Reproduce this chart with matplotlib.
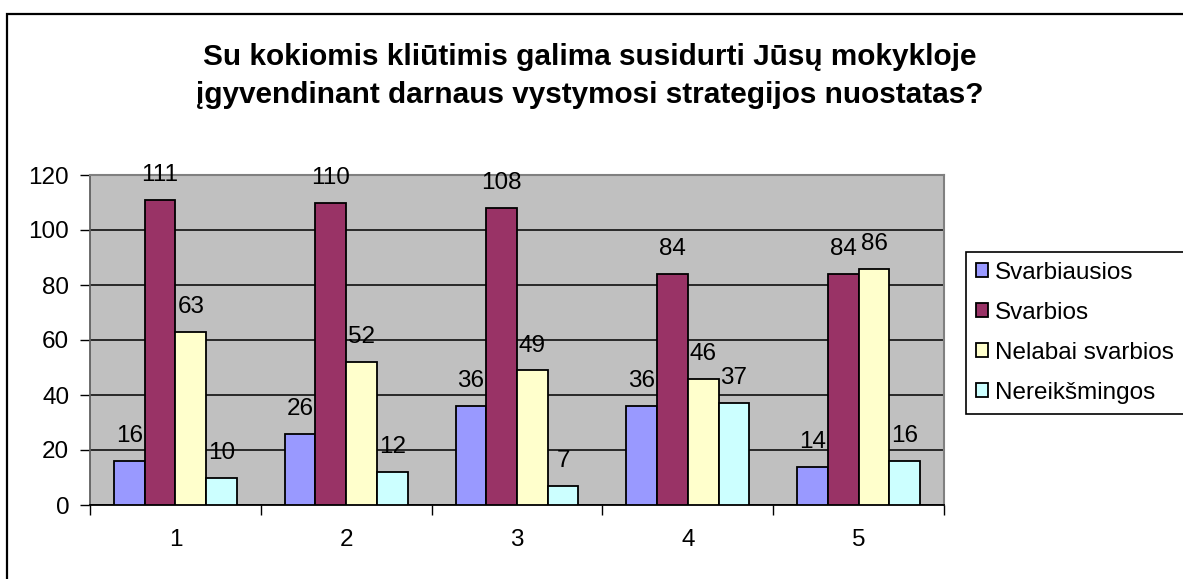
import numpy as np
import matplotlib.pyplot as plt
from matplotlib.patches import Rectangle

plt.rcParams['font.family'] = ['Liberation Sans', 'DejaVu Sans']

# Data
categories = ['1', '2', '3', '4', '5']
series_names = ['Svarbiausios', 'Svarbios', 'Nelabai svarbios', 'Nereikšmingos']
svarbiausios = [16, 26, 36, 36, 14]
svarbios = [111, 110, 108, 84, 84]
nelabai_svarbios = [63, 52, 49, 46, 86]
nereiksmingos = [10, 12, 7, 37, 16]
series_values = [svarbiausios, svarbios, nelabai_svarbios, nereiksmingos]
colors = ['#9999FF', '#993366', '#FFFFCC', '#CCFFFF']
title_lines = ['Su kokiomis kliūtimis galima susidurti Jūsų mokykloje',
               'įgyvendinant darnaus vystymosi strategijos nuostatas?']

W, H = 1183, 579
fs = 17.5
fig = plt.figure(figsize=(W / 100, H / 100), dpi=100)
ax = fig.add_axes([90 / W, 1 - 505 / H, (944 - 90) / W, (505 - 175) / H])
ax.set_facecolor('#C0C0C0')

x = np.arange(len(categories))
bw = 0.18
for i, (name, vals, c) in enumerate(zip(series_names, series_values, colors)):
    xs = x + (i - 1.5) * bw
    ax.bar(xs, vals, width=bw, color=c, edgecolor='black', linewidth=1.3,
           label=name, zorder=3)
    for xi, v in zip(xs, vals):
        ax.annotate(str(v), (xi, v), xytext=(0, 13.5), textcoords='offset points',
                    ha='center', va='baseline', fontsize=fs, zorder=4,
                    annotation_clip=False)

ax.set_xlim(-0.5, len(categories) - 0.5)
ax.set_ylim(0, 120)
ax.set_yticks(np.arange(0, 121, 20))
ax.yaxis.grid(True, color='black', linewidth=1.1, zorder=1)
ax.set_axisbelow(True)

# category ticks at boundaries, labels at centres
ax.set_xticks(np.arange(-0.5, len(categories), 1))
ax.set_xticklabels([])
ax.set_xticks(x, minor=True)
ax.set_xticklabels(categories, minor=True)
ax.tick_params(axis='x', which='major', direction='out', length=7, width=1, color='black')
ax.tick_params(axis='x', which='minor', length=0, pad=17, labelsize=fs)
ax.tick_params(axis='y', direction='out', length=7, width=1, color='black',
               pad=8, labelsize=fs)

for s in ['top', 'right']:
    ax.spines[s].set_color('#808080')
    ax.spines[s].set_linewidth(1.5)
ax.spines['left'].set_color('#606060')
ax.spines['left'].set_linewidth(1.3)
ax.spines['bottom'].set_color('black')
ax.spines['bottom'].set_linewidth(1.3)

# title, centred on the whole chart area
fig.text(590 / W, 1 - 65 / H, title_lines[0], ha='center', va='baseline',
         fontsize=21.4, fontweight='bold')
fig.text(590 / W, 1 - 103 / H, title_lines[1], ha='center', va='baseline',
         fontsize=21.4, fontweight='bold')

leg = ax.legend(loc='upper left', bbox_to_anchor=(966 / W, 1 - 258 / H, 400 / W, 0.01),
                bbox_transform=fig.transFigure, mode='expand', fontsize=fs,
                frameon=True, fancybox=False, edgecolor='black', framealpha=1,
                handlelength=0.5, handleheight=0.5, handletextpad=0.3,
                labelspacing=0.74, borderpad=0.4, borderaxespad=0)
leg.get_frame().set_linewidth(1.2)
for h in leg.legend_handles:
    h.set_linewidth(1.3)

# outer chart border (runs off the right and bottom of the image)
fig.add_artist(Rectangle((7 / W, -0.2), 1.2, 1 - 14 / H + 0.2,
                         transform=fig.transFigure, fill=False,
                         edgecolor='black', linewidth=1.6))

fig.savefig('out.png', dpi=100)
